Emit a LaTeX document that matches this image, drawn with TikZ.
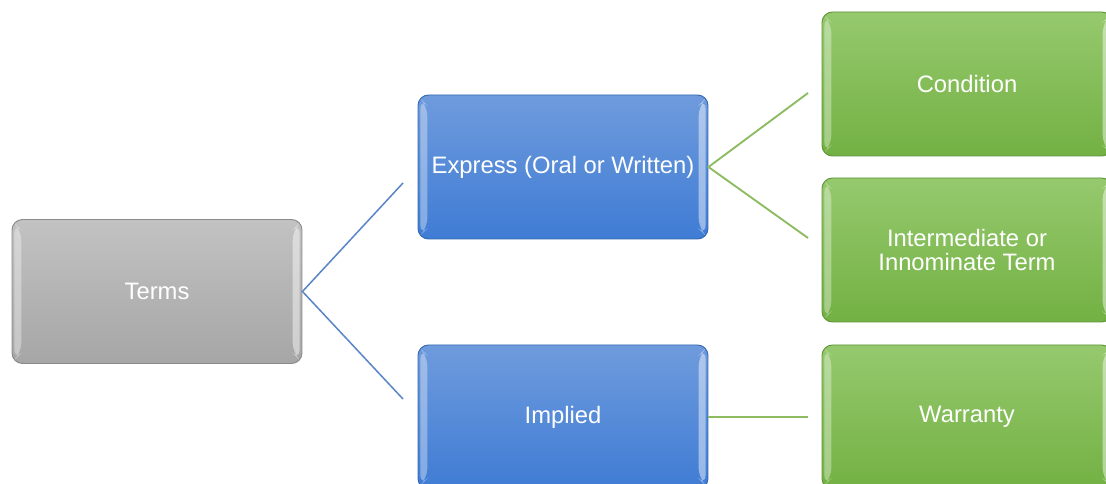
\documentclass[tikz,border=0pt]{standalone}
\usepackage{fontspec}
\setmainfont{Liberation Sans}
\usetikzlibrary{positioning}

\definecolor{grayT}{HTML}{C2C2C2}
\definecolor{grayB}{HTML}{A6A6A6}
\definecolor{grayD}{HTML}{8A8A8A}
\definecolor{blueT}{HTML}{6F9BDD}
\definecolor{blueB}{HTML}{3F7CD4}
\definecolor{blueD}{HTML}{3568B0}
\definecolor{greenT}{HTML}{96C96E}
\definecolor{greenB}{HTML}{73B143}
\definecolor{greenD}{HTML}{5E9436}
\definecolor{lineB}{HTML}{5A86C6}
\definecolor{lineG}{HTML}{8DBB62}

\begin{document}
\begin{tikzpicture}[x=0.03cm, y=-0.03cm,
  every node/.style={font=\fontsize{20.3}{20.5}\selectfont, text=white},
  box/.style={draw, line width=0.8pt, rounded corners=9pt, align=center,
    minimum width=290*0.03cm, minimum height=144*0.03cm, inner sep=0pt,
    path picture={
      \fill[white, opacity=0.35]
        ([xshift=2pt,yshift=-3pt]path picture bounding box.north west) --
        ([xshift=8pt,yshift=-9pt]path picture bounding box.north west) --
        ([xshift=8pt,yshift=9pt]path picture bounding box.south west) --
        ([xshift=2pt,yshift=3pt]path picture bounding box.south west) -- cycle;
      \fill[white, opacity=0.45]
        ([xshift=-2pt,yshift=-3pt]path picture bounding box.north east) --
        ([xshift=-8pt,yshift=-9pt]path picture bounding box.north east) --
        ([xshift=-8pt,yshift=9pt]path picture bounding box.south east) --
        ([xshift=-2pt,yshift=3pt]path picture bounding box.south east) -- cycle;
    }},
  gbox/.style={box, draw=grayD, top color=grayT, bottom color=grayB},
  bbox/.style={box, draw=blueD, top color=blueT, bottom color=blueB},
  ebox/.style={box, draw=greenD, top color=greenT, bottom color=greenB},
  lb/.style={draw=lineB, line width=1.3pt},
  lg/.style={draw=lineG, line width=1.6pt}]
\useasboundingbox (0,0) rectangle (1106,484);
\clip (0,0) rectangle (1106,484);
\node[gbox] (terms) at (157,291.5) {Terms};
\node[bbox] (express) at (563,167) {Express (Oral or Written)};
\node[bbox] (implied) at (563,417) {Implied};
\node[ebox] (cond) at (967,84) {Condition};
\node[ebox] (inter) at (967,250) {Intermediate or\\ Innominate Term};
\node[ebox] (warr) at (967,417) {Warranty};
% connector ends
\coordinate (t1) at (403,183);
\coordinate (t2) at (403,399);
\coordinate (e1) at (808,93);
\coordinate (e2) at (808,238);
\coordinate (i1) at (808,417);
\draw[lb] (t1) -- (terms.east) -- (t2);
\draw[lg] (e1) -- (express.east) -- (e2);
\draw[lg] (implied.east) -- (i1);
\end{tikzpicture}
\end{document}
